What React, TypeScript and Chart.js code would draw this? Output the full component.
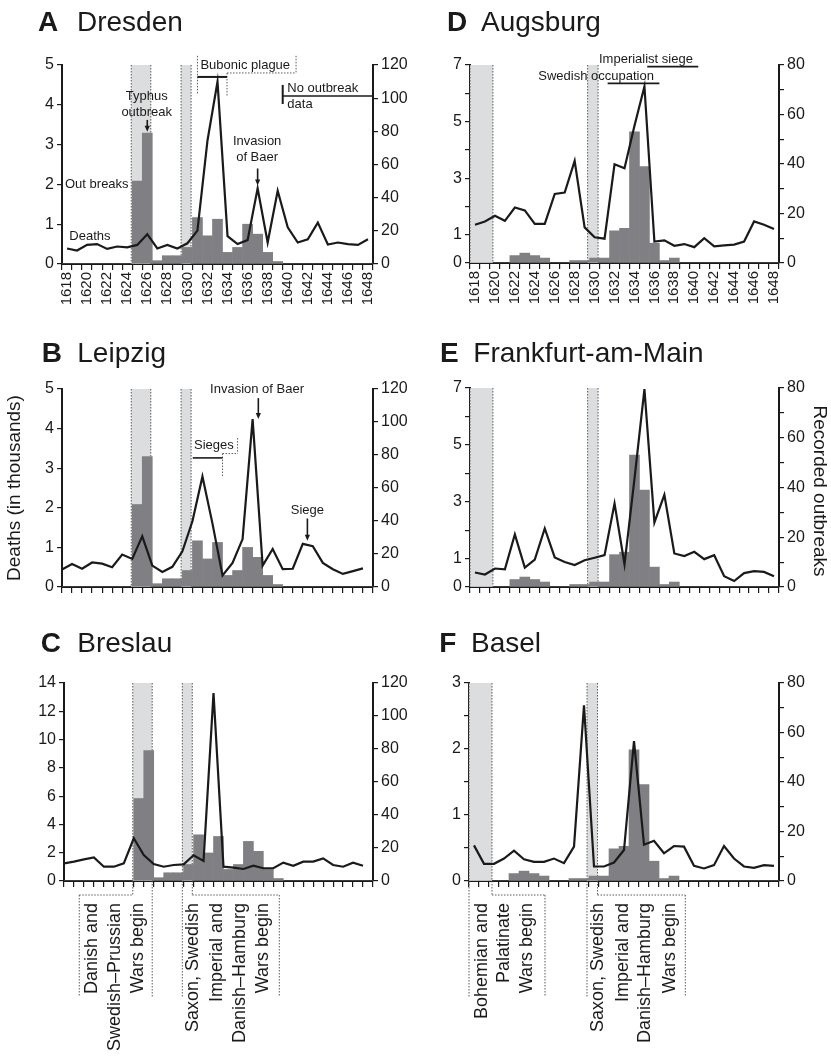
import React, { useEffect, useRef } from 'react';
import { Chart, registerables } from 'chart.js';

Chart.register(...registerables);

const FONT = '"Liberation Sans", Arial, Helvetica, sans-serif';
const INK = '#1a1a1a';
const BAR = '#808084';
const SHADE = '#dcdddf';
const DOT = '#4a4a4a';

// ---------- data ----------
const years = [
  '1618', '1619', '1620', '1621', '1622', '1623', '1624', '1625', '1626', '1627',
  '1628', '1629', '1630', '1631', '1632', '1633', '1634', '1635', '1636', '1637',
  '1638', '1639', '1640', '1641', '1642', '1643', '1644', '1645', '1646', '1647', '1648',
];
const yearTickLabels = [
  '1618', '1620', '1622', '1624', '1626', '1628', '1630', '1632',
  '1634', '1636', '1638', '1640', '1642', '1644', '1646', '1648',
];

// recorded outbreaks (right axis)
const outbreaksSaxony = [0, 0, 0, 0, 0, 0, 0, 50, 79, 2, 5, 5, 10, 28, 17, 27, 7, 10, 24, 18, 7, 1.5, 0, 0, 0, 0, 0, 0, 0, 0, 0];
const outbreaksSouthwest = [0, 0, 0, 0, 3, 4, 3, 2, 0, 0, 1, 1, 2, 2, 13, 14, 53, 39, 8, 1, 2, 0, 0, 0, 0, 0, 0, 0, 0, 0, 0];

// deaths in thousands (left axis)
const deathsDresden = [0.39, 0.34, 0.48, 0.50, 0.38, 0.44, 0.42, 0.48, 0.75, 0.39, 0.48, 0.39, 0.52, 0.84, 3.10, 4.58, 0.70, 0.50, 0.60, 1.90, 0.54, 1.84, 0.92, 0.54, 0.62, 1.04, 0.49, 0.54, 0.50, 0.48, 0.62];
const deathsLeipzig = [0.44, 0.58, 0.46, 0.62, 0.59, 0.50, 0.82, 0.71, 1.28, 0.54, 0.38, 0.51, 0.90, 1.66, 2.79, 1.60, 0.29, 0.61, 1.21, 4.24, 0.54, 0.96, 0.45, 0.46, 1.09, 1.03, 0.61, 0.45, 0.33, 0.40, 0.47];
const deathsBreslau = [1.25, 1.37, 1.53, 1.67, 1.01, 1.01, 1.25, 3.02, 1.84, 1.20, 1.01, 1.13, 1.18, 1.82, 1.42, 13.28, 1.01, 0.94, 0.85, 1.08, 0.90, 0.90, 1.30, 1.08, 1.37, 1.37, 1.60, 1.13, 1.01, 1.30, 1.08];
const deathsAugsburg = [1.35, 1.47, 1.67, 1.49, 1.96, 1.86, 1.38, 1.38, 2.44, 2.49, 3.61, 1.26, 0.91, 0.86, 3.49, 3.35, 4.85, 6.24, 0.76, 0.80, 0.61, 0.67, 0.56, 0.88, 0.59, 0.62, 0.65, 0.76, 1.47, 1.35, 1.20];
const deathsFrankfurt = [0.51, 0.44, 0.65, 0.62, 1.85, 0.68, 0.96, 2.06, 1.04, 0.88, 0.77, 0.94, 1.03, 1.12, 2.94, 0.80, 3.80, 6.96, 2.27, 3.24, 1.18, 1.09, 1.24, 0.98, 1.12, 0.38, 0.21, 0.49, 0.56, 0.53, 0.38];
const deathsBasel = [0.54, 0.26, 0.26, 0.34, 0.46, 0.33, 0.29, 0.29, 0.34, 0.27, 0.52, 2.66, 0.22, 0.22, 0.28, 0.47, 2.12, 0.55, 0.61, 0.42, 0.53, 0.52, 0.23, 0.19, 0.24, 0.53, 0.34, 0.22, 0.20, 0.24, 0.23];

// war periods (shaded), in continuous years
const shadesSaxony: [number, number][] = [[1624.9, 1626.85], [1629.87, 1630.87]];
const shadesSouthwest: [number, number][] = [[1618.0, 1620.3], [1629.8, 1630.85]];

const warLabelsSaxony = ['Danish and', 'Swedish\u2013Prussian', 'Wars begin'];
const warLabelsSouthwest = ['Bohemian and', 'Palatinate', 'Wars begin'];
const warLabelsSecond = ['Saxon, Swedish', 'Imperial and', 'Danish\u2013Hamburg', 'Wars begin'];

// ---------- annotation helpers ----------
type Note =
  | { kind: 'text'; x: number; y: number; text: string; align: 'left' | 'center' }
  | { kind: 'arrow'; x: number; y1: number; y2: number }
  | { kind: 'solid'; x1: number; y1: number; x2: number; y2: number; w?: number }
  | { kind: 'dotted'; x1: number; y1: number; x2: number; y2: number }
  | { kind: 'below'; x1: number; o1: number; x2: number; o2: number }
  | { kind: 'vtext'; x: number; o: number; text: string };

const vtexts = (xs: number[], texts: string[]): Note[] =>
  texts.map((t, i) => ({ kind: 'vtext', x: xs[i], o: 22, text: t } as Note));

const notesA: Note[] = [
  { kind: 'text', x: 1626.44, y: 4.2, text: 'Typhus', align: 'center' },
  { kind: 'text', x: 1626.44, y: 3.8, text: 'outbreak', align: 'center' },
  { kind: 'arrow', x: 1626.5, y1: 3.62, y2: 3.32 },
  { kind: 'text', x: 1618.3, y: 2.0, text: 'Out breaks', align: 'left' },
  { kind: 'text', x: 1618.73, y: 0.69, text: 'Deaths', align: 'left' },
  { kind: 'text', x: 1631.8, y: 5.0, text: 'Bubonic plague', align: 'left' },
  { kind: 'dotted', x1: 1631.5, y1: 5.23, x2: 1631.5, y2: 4.25 },
  { kind: 'dotted', x1: 1641.33, y1: 5.23, x2: 1641.33, y2: 4.8 },
  { kind: 'dotted', x1: 1634.45, y1: 4.8, x2: 1641.33, y2: 4.8 },
  { kind: 'dotted', x1: 1634.45, y1: 4.8, x2: 1634.45, y2: 4.2 },
  { kind: 'solid', x1: 1631.5, y1: 4.7, x2: 1634.45, y2: 4.7, w: 2 },
  { kind: 'solid', x1: 1640.0, y1: 4.5, x2: 1640.0, y2: 4.02, w: 2 },
  { kind: 'solid', x1: 1640.0, y1: 4.22, x2: 1649, y2: 4.22, w: 1.5 },
  { kind: 'text', x: 1640.46, y: 4.4, text: 'No outbreak', align: 'left' },
  { kind: 'text', x: 1640.46, y: 4.0, text: 'data', align: 'left' },
  { kind: 'text', x: 1637.45, y: 3.07, text: 'Invasion', align: 'center' },
  { kind: 'text', x: 1637.45, y: 2.68, text: 'of Baer', align: 'center' },
  { kind: 'arrow', x: 1637.5, y1: 2.4, y2: 1.97 },
];

const notesB: Note[] = [
  { kind: 'text', x: 1632.76, y: 5.0, text: 'Invasion of Baer', align: 'left' },
  { kind: 'arrow', x: 1637.57, y1: 4.77, y2: 4.24 },
  { kind: 'text', x: 1631.16, y: 3.57, text: 'Sieges', align: 'left' },
  { kind: 'dotted', x1: 1635.5, y1: 3.76, x2: 1635.5, y2: 3.37 },
  { kind: 'dotted', x1: 1634.0, y1: 3.37, x2: 1635.5, y2: 3.37 },
  { kind: 'dotted', x1: 1634.0, y1: 3.37, x2: 1634.0, y2: 2.77 },
  { kind: 'solid', x1: 1631.03, y1: 3.26, x2: 1634.0, y2: 3.26, w: 1.6 },
  { kind: 'text', x: 1642.46, y: 1.93, text: 'Siege', align: 'center' },
  { kind: 'arrow', x: 1642.46, y1: 1.73, y2: 1.17 },
];

const notesC: Note[] = [
  { kind: 'below', x1: 1624.9, o1: 0, x2: 1624.9, o2: 14 },
  { kind: 'below', x1: 1619.53, o1: 14, x2: 1624.9, o2: 14 },
  { kind: 'below', x1: 1619.53, o1: 14, x2: 1619.53, o2: 116 },
  { kind: 'below', x1: 1626.85, o1: 0, x2: 1626.85, o2: 116 },
  { kind: 'below', x1: 1629.87, o1: 0, x2: 1629.87, o2: 116 },
  { kind: 'below', x1: 1630.87, o1: 0, x2: 1630.87, o2: 14 },
  { kind: 'below', x1: 1630.87, o1: 14, x2: 1639.6, o2: 14 },
  { kind: 'below', x1: 1639.6, o1: 14, x2: 1639.6, o2: 116 },
  ...vtexts([1620.78, 1623.12, 1625.42], warLabelsSaxony),
  ...vtexts([1630.97, 1633.32, 1635.65, 1637.99], warLabelsSecond),
];

const notesD: Note[] = [
  { kind: 'text', x: 1630.94, y: 7.18, text: 'Imperialist siege', align: 'left' },
  { kind: 'solid', x1: 1635.78, y1: 6.94, x2: 1640.9, y2: 6.94, w: 1.8 },
  { kind: 'text', x: 1624.85, y: 6.61, text: 'Swedish occupation', align: 'left' },
  { kind: 'solid', x1: 1631.81, y1: 6.35, x2: 1637.0, y2: 6.35, w: 1.8 },
];

const notesF: Note[] = [
  { kind: 'below', x1: 1618.0, o1: 0, x2: 1618.0, o2: 116 },
  { kind: 'below', x1: 1620.3, o1: 0, x2: 1620.3, o2: 14 },
  { kind: 'below', x1: 1620.3, o1: 14, x2: 1625.6, o2: 14 },
  { kind: 'below', x1: 1625.6, o1: 14, x2: 1625.6, o2: 116 },
  { kind: 'below', x1: 1629.8, o1: 0, x2: 1629.8, o2: 116 },
  { kind: 'below', x1: 1630.85, o1: 0, x2: 1630.85, o2: 14 },
  { kind: 'below', x1: 1630.85, o1: 14, x2: 1639.63, o2: 14 },
  { kind: 'below', x1: 1639.63, o1: 14, x2: 1639.63, o2: 116 },
  ...vtexts([1619.27, 1621.53, 1623.83], warLabelsSouthwest),
  ...vtexts([1630.93, 1633.43, 1635.6, 1638.1], warLabelsSecond),
];

type Box = { left: number; top: number; width: number; height: number };
type Area = { left: number; top: number; right: number; bottom: number };
type AxisCfg = { max: number; step: number; labels?: number[] };
type Panel = {
  key: string;
  canvas: Box;
  area: Area;
  title: { letter: string; name: string; lx: number; nx: number; base: number };
  deaths: number[];
  outbreaks: number[];
  lineOffset: number;
  yL: AxisCfg;
  yR: AxisCfg;
  showYears: boolean;
  shades: [number, number][];
  notes: Note[];
  axisTitles?: { text: string; x: number; y: number; rot: number }[];
};

const panels: Panel[] = [
  {
    key: 'A', canvas: { left: 0, top: 0, width: 410, height: 325 }, area: { left: 62, top: 65, right: 373, bottom: 264 },
    title: { letter: 'A', name: 'Dresden', lx: 38, nx: 77, base: 31 },
    deaths: deathsDresden, outbreaks: outbreaksSaxony, lineOffset: 0.5,
    yL: { max: 5, step: 1 }, yR: { max: 120, step: 20 }, showYears: true, shades: shadesSaxony, notes: notesA,
  },
  {
    key: 'B', canvas: { left: 0, top: 325, width: 410, height: 290 }, area: { left: 62, top: 389, right: 373, bottom: 587 },
    title: { letter: 'B', name: 'Leipzig', lx: 41.7, nx: 77.3, base: 36.7 },
    deaths: deathsLeipzig, outbreaks: outbreaksSaxony, lineOffset: 0,
    yL: { max: 5, step: 1 }, yR: { max: 120, step: 20 }, showYears: false, shades: shadesSaxony, notes: notesB,
    axisTitles: [{ text: 'Deaths (in thousands)', x: 15, y: 163, rot: -90 }],
  },
  {
    key: 'C', canvas: { left: 0, top: 615, width: 410, height: 442 }, area: { left: 64, top: 683, right: 373, bottom: 881 },
    title: { letter: 'C', name: 'Breslau', lx: 40.7, nx: 77.3, base: 36.7 },
    deaths: deathsBreslau, outbreaks: outbreaksSaxony, lineOffset: 0,
    yL: { max: 14, step: 2 }, yR: { max: 120, step: 20 }, showYears: false, shades: shadesSaxony, notes: notesC,
  },
  {
    key: 'D', canvas: { left: 410, top: 0, width: 421, height: 325 }, area: { left: 470, top: 65, right: 779, bottom: 263 },
    title: { letter: 'D', name: 'Augsburg', lx: 37, nx: 71, base: 31 },
    deaths: deathsAugsburg, outbreaks: outbreaksSouthwest, lineOffset: 0.5,
    yL: { max: 7, step: 1, labels: [0, 1, 3, 5, 7] }, yR: { max: 80, step: 10, labels: [0, 20, 40, 60, 80] },
    showYears: true, shades: shadesSouthwest, notes: notesD,
  },
  {
    key: 'E', canvas: { left: 410, top: 325, width: 421, height: 290 }, area: { left: 470, top: 388, right: 779, bottom: 587 },
    title: { letter: 'E', name: 'Frankfurt-am-Main', lx: 30, nx: 63.3, base: 36.7 },
    deaths: deathsFrankfurt, outbreaks: outbreaksSouthwest, lineOffset: 0.5,
    yL: { max: 7, step: 1, labels: [0, 1, 3, 5, 7] }, yR: { max: 80, step: 10, labels: [0, 20, 40, 60, 80] },
    showYears: false, shades: shadesSouthwest, notes: [],
    axisTitles: [{ text: 'Recorded outbreaks', x: 409, y: 166, rot: 90 }],
  },
  {
    key: 'F', canvas: { left: 410, top: 615, width: 421, height: 442 }, area: { left: 469, top: 683, right: 779, bottom: 881 },
    title: { letter: 'F', name: 'Basel', lx: 29.3, nx: 61, base: 36.7 },
    deaths: deathsBasel, outbreaks: outbreaksSouthwest, lineOffset: 0.5,
    yL: { max: 3, step: 0.5, labels: [0, 1, 2, 3] }, yR: { max: 80, step: 10, labels: [0, 20, 40, 60, 80] },
    showYears: false, shades: shadesSouthwest, notes: notesF,
  },
];

function makeDecor(cfg: Panel) {
  return {
    id: 'decor' + cfg.key,
    beforeDatasetsDraw(chart: any) {
      const ctx = chart.ctx as CanvasRenderingContext2D;
      const xt = chart.scales.xt;
      const a = chart.chartArea;
      ctx.save();
      for (const [s, e] of cfg.shades) {
        const x1 = xt.getPixelForValue(s);
        const x2 = xt.getPixelForValue(e);
        ctx.fillStyle = SHADE;
        ctx.fillRect(x1, a.top, x2 - x1, a.bottom - a.top);
        ctx.strokeStyle = DOT;
        ctx.lineWidth = 0.9;
        ctx.setLineDash([1.5, 1.5]);
        for (const x of [x1, x2]) {
          ctx.beginPath();
          ctx.moveTo(x, a.top);
          ctx.lineTo(x, a.bottom);
          ctx.stroke();
        }
      }
      ctx.restore();
    },
    afterDraw(chart: any) {
      const ctx = chart.ctx as CanvasRenderingContext2D;
      const xt = chart.scales.xt;
      const yL = chart.scales.yL;
      const a = chart.chartArea;
      const X = (v: number) => xt.getPixelForValue(v);
      const Y = (v: number) => yL.getPixelForValue(v);
      ctx.save();
      ctx.fillStyle = INK;
      ctx.strokeStyle = INK;
      for (const n of cfg.notes) {
        if (n.kind === 'text') {
          ctx.font = `13px ${FONT}`;
          ctx.textAlign = n.align;
          ctx.textBaseline = 'middle';
          ctx.fillStyle = INK;
          ctx.fillText(n.text, X(n.x), Y(n.y));
        } else if (n.kind === 'arrow') {
          const x = X(n.x), y1 = Y(n.y1), y2 = Y(n.y2);
          ctx.setLineDash([]);
          ctx.lineWidth = 1.6;
          ctx.strokeStyle = INK;
          ctx.beginPath();
          ctx.moveTo(x, y1);
          ctx.lineTo(x, y2 - 4);
          ctx.stroke();
          ctx.fillStyle = INK;
          ctx.beginPath();
          ctx.moveTo(x - 2.6, y2 - 6);
          ctx.lineTo(x + 2.6, y2 - 6);
          ctx.lineTo(x, y2);
          ctx.closePath();
          ctx.fill();
        } else if (n.kind === 'solid' || n.kind === 'dotted') {
          ctx.beginPath();
          if (n.kind === 'dotted') {
            ctx.setLineDash([1.5, 1.5]);
            ctx.lineWidth = 0.9;
            ctx.strokeStyle = DOT;
          } else {
            ctx.setLineDash([]);
            ctx.lineWidth = n.w || 1.6;
            ctx.strokeStyle = INK;
          }
          ctx.moveTo(X(n.x1), Y(n.y1));
          ctx.lineTo(X(n.x2), Y(n.y2));
          ctx.stroke();
        } else if (n.kind === 'below') {
          ctx.setLineDash([1.5, 1.5]);
          ctx.lineWidth = 0.9;
          ctx.strokeStyle = DOT;
          ctx.beginPath();
          ctx.moveTo(X(n.x1), a.bottom + n.o1);
          ctx.lineTo(X(n.x2), a.bottom + n.o2);
          ctx.stroke();
        } else if (n.kind === 'vtext') {
          ctx.save();
          ctx.translate(X(n.x), a.bottom + n.o);
          ctx.rotate(-Math.PI / 2);
          ctx.font = `18px ${FONT}`;
          ctx.textAlign = 'right';
          ctx.textBaseline = 'middle';
          ctx.fillStyle = INK;
          ctx.fillText(n.text, 0, 0);
          ctx.restore();
        }
      }
      ctx.setLineDash([]);
      // panel title
      const t = cfg.title;
      ctx.fillStyle = INK;
      ctx.textAlign = 'left';
      ctx.textBaseline = 'alphabetic';
      ctx.font = `bold 28px ${FONT}`;
      ctx.fillText(t.letter, t.lx, t.base);
      ctx.font = `28px ${FONT}`;
      ctx.fillText(t.name, t.nx, t.base);
      // axis titles
      for (const at of cfg.axisTitles || []) {
        ctx.save();
        ctx.translate(at.x, at.y);
        ctx.rotate((at.rot * Math.PI) / 180);
        ctx.font = `19px ${FONT}`;
        ctx.textAlign = 'center';
        ctx.textBaseline = 'middle';
        ctx.fillText(at.text, 0, 0);
        ctx.restore();
      }
      ctx.restore();
    },
  };
}

function axisTicks(ax: AxisCfg) {
  return {
    stepSize: ax.step,
    autoSkip: false,
    padding: 3,
    color: INK,
    font: { family: FONT, size: 16 },
    callback: (v: any) => {
      const n = Number(v);
      if (ax.labels) return ax.labels.includes(n) ? String(n) : '';
      return String(n);
    },
  };
}

function PanelChart({ cfg }: { cfg: Panel }) {
  const ref = useRef<HTMLCanvasElement | null>(null);
  useEffect(() => {
    if (!ref.current) return;
    const c = cfg.canvas;
    const a = cfg.area;
    const padTop = a.top - c.top;
    const leftW = a.left - c.left;
    const rightW = c.left + c.width - a.right;
    const bottomH = c.top + c.height - a.bottom;
    const chart = new Chart(ref.current, {
      type: 'bar',
      data: {
        labels: years,
        datasets: [
          {
            type: 'line',
            label: 'Deaths',
            data: cfg.deaths.map((v, i) => ({ x: Number(years[i]) + cfg.lineOffset, y: v })),
            xAxisID: 'xt',
            yAxisID: 'yL',
            borderColor: INK,
            borderWidth: 2.2,
            pointRadius: 0,
            tension: 0,
            fill: false,
            order: 0,
          } as any,
          {
            type: 'bar',
            label: 'Outbreaks',
            data: cfg.outbreaks,
            xAxisID: 'x',
            yAxisID: 'yR',
            backgroundColor: BAR,
            barPercentage: 1,
            categoryPercentage: 1,
            grouped: false,
            borderWidth: 0,
            order: 1,
          } as any,
        ],
      },
      options: {
        responsive: false,
        animation: false,
        devicePixelRatio: 1,
        datasets: { bar: { barPercentage: 1, categoryPercentage: 1, grouped: false } },
        layout: { autoPadding: false, padding: { top: padTop, left: 0, right: 0, bottom: 0 } },
        plugins: { legend: { display: false }, tooltip: { enabled: false }, title: { display: false } },
        scales: {
          x: {
            type: 'category',
            position: 'bottom',
            offset: true,
            grid: { offset: true, drawOnChartArea: false, drawTicks: true, tickLength: 6, color: INK, lineWidth: 1.2 },
            border: { display: true, color: INK, width: 2 },
            ticks: {
              display: cfg.showYears,
              autoSkip: false,
              minRotation: 90,
              maxRotation: 90,
              padding: 2,
              color: INK,
              font: { family: FONT, size: 15 },
              callback: (_v: any, i: number) => (yearTickLabels.includes(years[i]) ? years[i] : ''),
            },
            afterFit: (s: any) => { s.height = bottomH; },
          },
          xt: { type: 'linear', display: false, offset: false, bounds: 'ticks', min: 1618, max: 1649, grid: { offset: false } },
          yL: {
            type: 'linear',
            position: 'left',
            min: 0,
            max: cfg.yL.max,
            grid: { drawOnChartArea: false, drawTicks: true, tickLength: 5, color: INK, lineWidth: 1.2 },
            border: { display: true, color: INK, width: 2 },
            ticks: axisTicks(cfg.yL),
            afterFit: (s: any) => { s.width = leftW; },
          },
          yR: {
            type: 'linear',
            position: 'right',
            min: 0,
            max: cfg.yR.max,
            grid: { drawOnChartArea: false, drawTicks: true, tickLength: 5, color: INK, lineWidth: 1.2 },
            border: { display: true, color: INK, width: 2 },
            ticks: axisTicks(cfg.yR),
            afterFit: (s: any) => { s.width = rightW; },
          },
        },
      } as any,
      plugins: [makeDecor(cfg) as any],
    });
    return () => chart.destroy();
  }, [cfg]);
  const c = cfg.canvas;
  return (
    <canvas
      ref={ref}
      width={c.width}
      height={c.height}
      style={{ position: 'absolute', left: c.left, top: c.top, width: c.width, height: c.height }}
    />
  );
}

export default function App() {
  return (
    <div style={{ position: 'absolute', left: 0, top: 0, width: 831, height: 1057, background: '#fff', overflow: 'hidden' }}>
      {panels.map((p) => (
        <PanelChart key={p.key} cfg={p} />
      ))}
    </div>
  );
}
